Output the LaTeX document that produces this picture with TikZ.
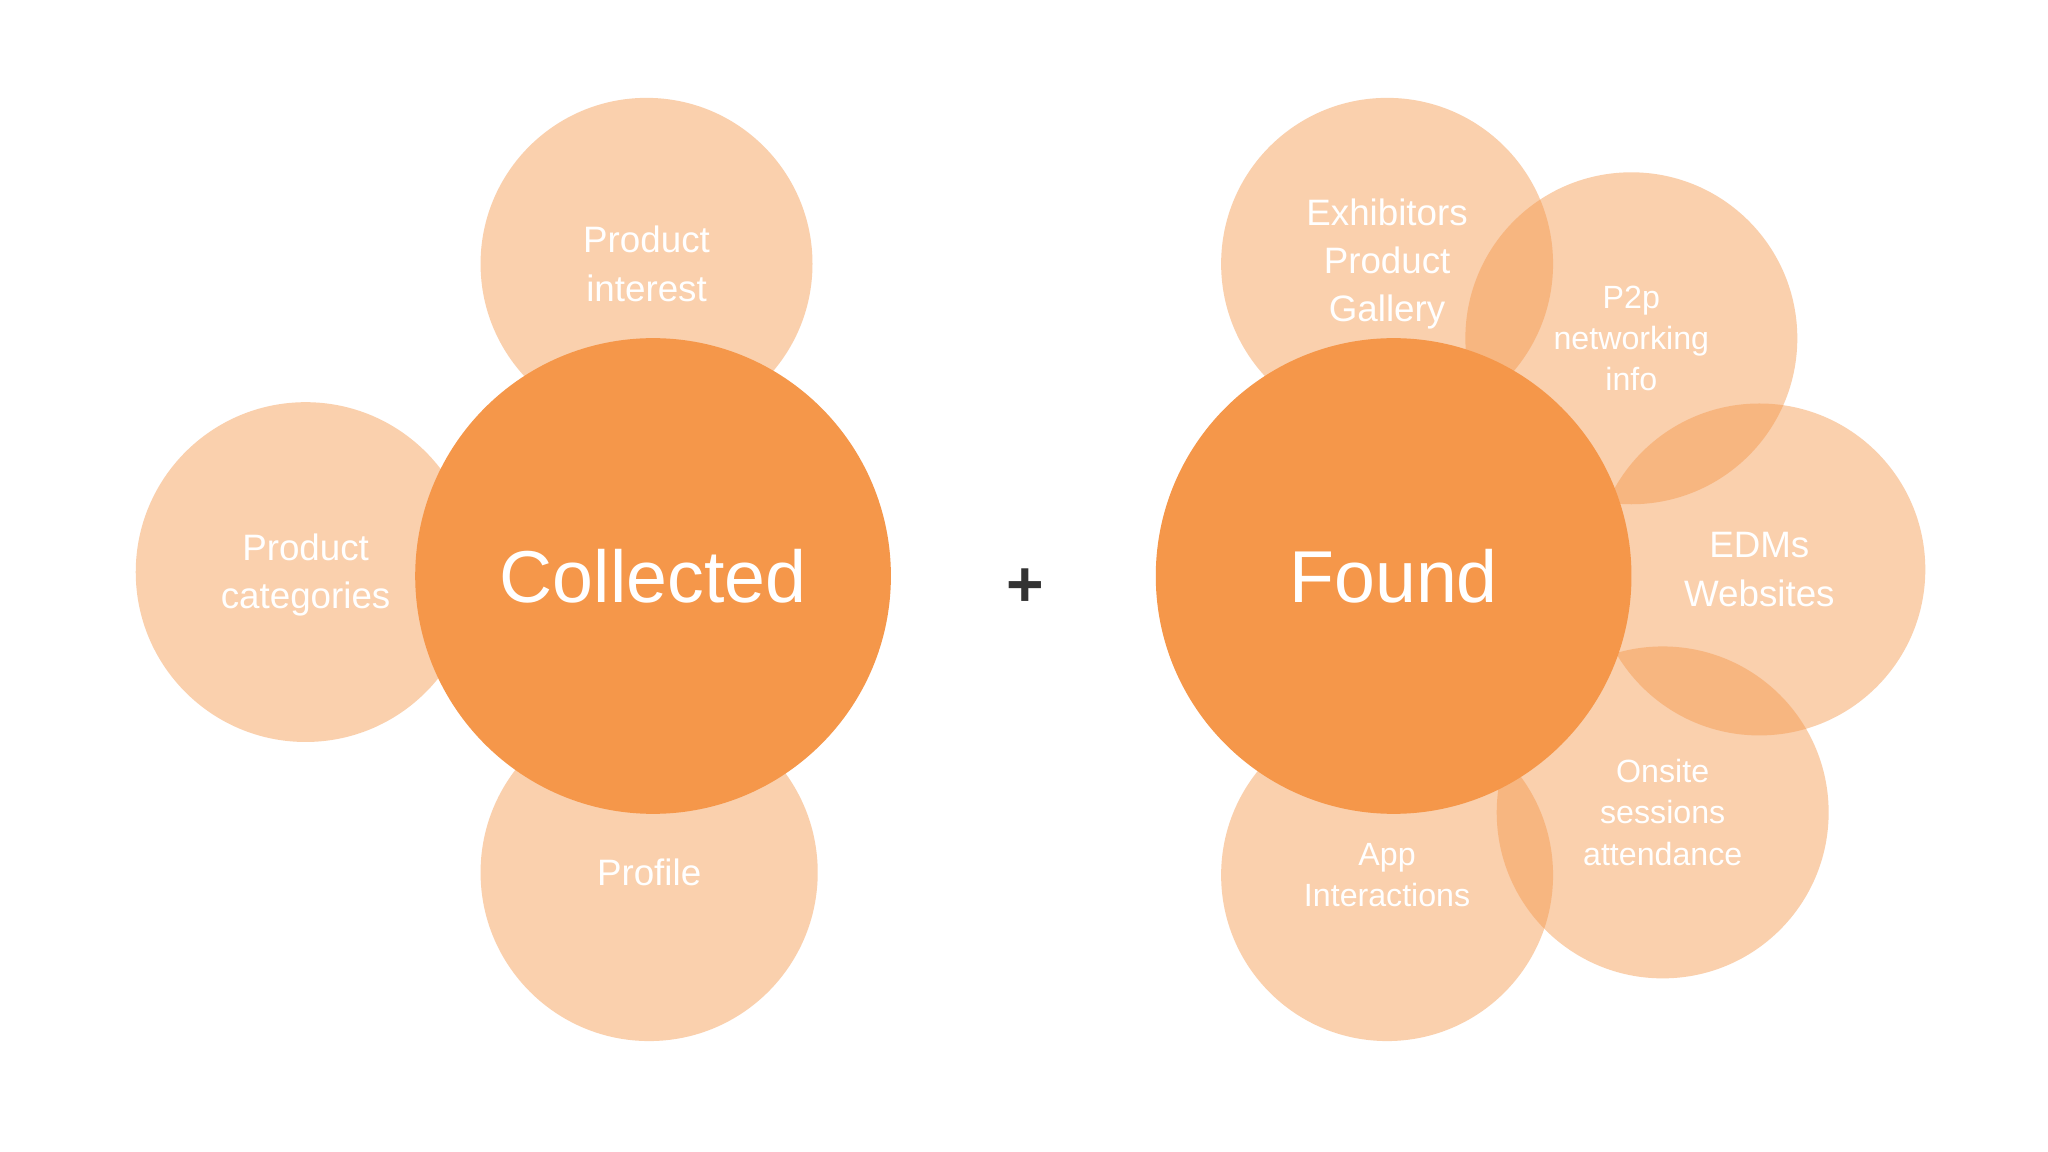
\documentclass[tikz,border=0pt]{standalone}
\usepackage{fontspec}
\setmainfont{Liberation Sans}
\definecolor{org}{HTML}{F5974A}
\begin{document}
\begin{tikzpicture}[x=0.01cm,y=-0.01cm,
  petal/.style={fill=org,fill opacity=0.45,draw=none},
  core/.style={fill=org,draw=none},
  ptxt/.style={text=white,align=center,font=\fontsize{8}{10.5}\selectfont},
  ctxt/.style={text=white,font=\fontsize{16}{18}\selectfont}]
\fill[white] (0,0) rectangle (1568,882);
% left
\fill[petal] (495,202) circle (1.27cm);
\fill[petal] (234,438) circle (1.30cm);
\fill[petal] (497,668) circle (1.29cm);
\fill[core] (500,441) circle (1.82cm);
\node[ptxt] (pi) at (495,202) {Product\\interest};
\node[ptxt] (pc) at (234,440) {Product\\categories};
\node[ptxt] (pr) at (497,668) {Profile};
\node[ctxt] (col) at (500,441) {Collected};
\node[text=black!80,font=\fontsize{14}{16}\selectfont\bfseries] (plus) at (785,450) {+};
% right
\fill[petal] (1062,202) circle (1.27cm);
\fill[petal] (1249,259) circle (1.27cm);
\fill[petal] (1347,436) circle (1.27cm);
\fill[petal] (1273,622) circle (1.27cm);
\fill[petal] (1062,670) circle (1.27cm);
\fill[core] (1067,441) circle (1.82cm);
\node[ptxt] (ex) at (1062,202) {Exhibitors\\Product\\Gallery};
\node[ptxt,font=\fontsize{7}{9}\selectfont] (p2) at (1249,259) {P2p\\networking\\info};
\node[ptxt] (ed) at (1347,436) {EDMs\\Websites};
\node[ptxt,font=\fontsize{7}{9}\selectfont] (on) at (1273,622) {Onsite\\sessions\\attendance};
\node[ptxt,font=\fontsize{7}{9}\selectfont] (ap) at (1062,670) {App\\Interactions};
\node[ctxt] (fo) at (1067,441) {Found};
\end{tikzpicture}
\end{document}
